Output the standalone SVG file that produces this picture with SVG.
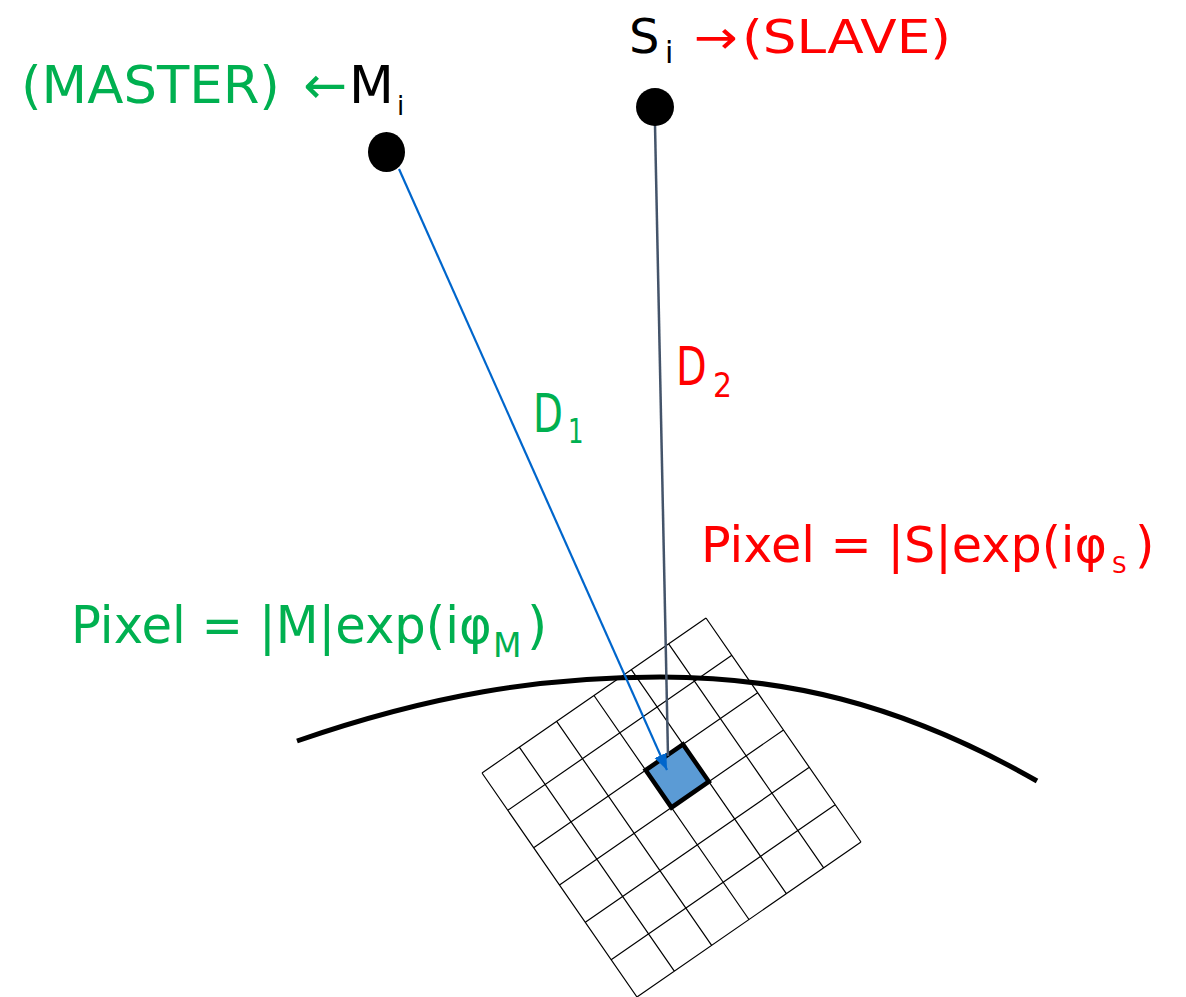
<svg xmlns="http://www.w3.org/2000/svg" width="1186" height="997" viewBox="0 0 1186 997">
<style>
.t{font-family:"DejaVu Sans","Liberation Sans",sans-serif}
.g{fill:#00B050}
.r{fill:#FF0000}
.k{fill:#000000}
.grid{fill:none;stroke:#000;stroke-width:1.2}
.dot{fill:#000}
</style>
<defs>
<marker id="ah" markerUnits="userSpaceOnUse" markerWidth="18" markerHeight="14" refX="16" refY="6.5" orient="auto">
<path d="M0,0 L16,6.5 L0,13 z" fill="#0066CC"/>
</marker>
</defs>
<rect width="1186" height="997" fill="#fff"/>
<g id="pixel-grid" transform="translate(706,618) rotate(55.32)">
<path class="grid" d="M0,0H272.4M0,45.4H272.4M0,90.8H272.4M0,136.2H272.4M0,181.6H272.4M0,227H272.4M0,272.4H272.4M0,0V272.4M45.4,0V272.4M90.8,0V272.4M136.2,0V272.4M181.6,0V272.4M227,0V272.4M272.4,0V272.4"/>
<rect id="pixel" x="90.8" y="90.8" width="45.4" height="45.4" fill="#5B9BD5" stroke="#000" stroke-width="4.5"/>
</g>
<g id="earth">
<path d="M297,741 C430,695 540,677 660,677 C780,677 897,701 1037,781" fill="none" stroke="#000" stroke-width="5"/>
</g>
<g id="connectors">
<line x1="655" y1="125" x2="668" y2="756" stroke="#44546A" stroke-width="2.5"/>
<line x1="399" y1="169" x2="667" y2="770" stroke="#0066CC" stroke-width="2.2" marker-end="url(#ah)"/>
</g>
<g id="master">
<ellipse class="dot" cx="386.5" cy="152" rx="18.5" ry="20"/>
<text class="t g" x="21" y="103" font-size="52" textLength="259" lengthAdjust="spacingAndGlyphs">(MASTER)</text>
<text class="t g" x="303" y="103" font-size="52" textLength="44" lengthAdjust="spacingAndGlyphs">←</text>
<text class="t k" x="349" y="103" font-size="52">M</text>
<text class="t k" x="397" y="115" font-size="26">i</text>
</g>
<g id="slave">
<circle class="dot" cx="655" cy="107" r="19"/>
<text class="t k" x="629" y="53" font-size="48">S</text>
<text class="t k" x="665" y="63" font-size="30">i</text>
<text class="t r" x="694" y="53" font-size="46" textLength="44" lengthAdjust="spacingAndGlyphs">→</text>
<text class="t r" x="742" y="53" font-size="46" textLength="209" lengthAdjust="spacingAndGlyphs">(SLAVE)</text>
</g>
<g id="labels">
<text class="t g" transform="translate(533,432) scale(0.72,1)" font-size="54">D</text>
<text class="t g" transform="translate(568,443) scale(0.72,1)" font-size="34">1</text>
<text class="t r" transform="translate(676,385) scale(0.74,1)" font-size="54">D</text>
<text class="t r" transform="translate(713,397) scale(0.88,1)" font-size="34">2</text>
<text class="t g" transform="translate(71,643) scale(0.955,1)" font-size="52">Pixel = |M|exp(iφ</text>
<text class="t g" x="493" y="657" font-size="33">M</text>
<text class="t g" x="527" y="643" font-size="52">)</text>
<text class="t r" transform="translate(701,562) scale(0.985,1)" font-size="50">Pixel = |S|exp(iφ</text>
<text class="t r" x="1112" y="573" font-size="23">S</text>
<text class="t r" x="1135" y="562" font-size="50">)</text>
</g>
</svg>
